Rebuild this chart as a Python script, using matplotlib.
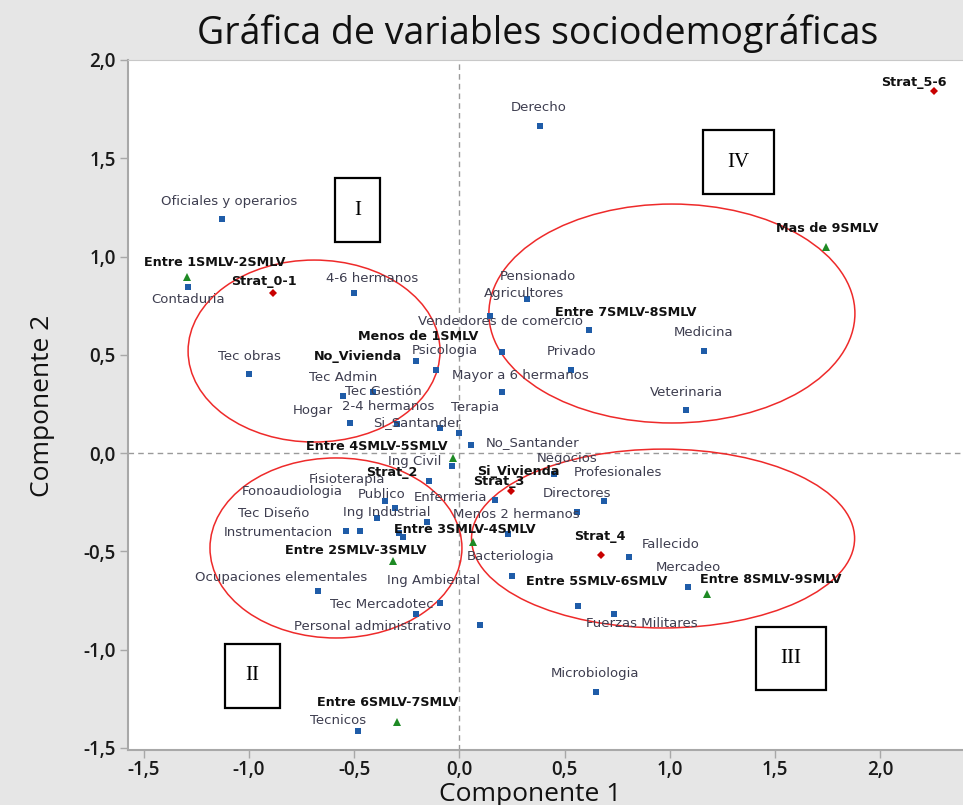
import matplotlib
matplotlib.use('Agg')
import matplotlib.pyplot as plt
from matplotlib.patches import Ellipse, Rectangle
from matplotlib.ticker import FuncFormatter

# categorias (nombre, componente 1, componente 2, grupo)
names = ['Derecho', 'Oficiales y operarios', 'Contaduria', '4-6 hermanos', 'Tec obras',
         'Pensionado', 'Agricultores', 'Vendedores de comercio', 'Entre 7SMLV-8SMLV', 'Medicina',
         'Menos de 1SMLV', 'Psicologia', 'Privado', 'Mayor a 6 hermanos', 'Tec Admin',
         'Tec Gestión', '2-4 hermanos', 'Hogar', 'Si_Santander', 'Terapia',
         'No_Santander', 'Veterinaria', 'Ing Civil', 'Negocios', 'Strat_2',
         'Enfermeria', 'Profesionales', 'Publico', 'Fisioterapia', 'Fonoaudiologia',
         'Directores', 'Menos 2 hermanos', 'Tec Diseño', 'Instrumentacion', 'Ing Industrial',
         'No_Vivienda', 'Si_Vivienda', 'Fallecido', 'Bacteriologia', 'Mercadeo',
         'Ocupaciones elementales', 'Ing Ambiental', 'Tec Mercadotec', 'Entre 5SMLV-6SMLV', 'Fuerzas Militares',
         'Personal administrativo', 'Microbiologia', 'Tecnicos',
         'Entre 1SMLV-2SMLV', 'Mas de 9SMLV', 'Entre 4SMLV-5SMLV', 'Entre 3SMLV-4SMLV', 'Entre 2SMLV-3SMLV',
         'Entre 8SMLV-9SMLV', 'Entre 6SMLV-7SMLV',
         'Strat_0-1', 'Strat_5-6', 'Strat_3', 'Strat_4']
comp1 = [0.383, -1.127, -1.289, -0.500, -0.999,
         0.322, 0.146, 0.203, 0.616, 1.163,
         -0.206, -0.111, 0.531, 0.203, -0.553,
         -0.410, -0.296, -0.519, -0.092, -0.001,
         0.055, 1.077, -0.035, 0.450, -0.144,
         0.170, 0.687, -0.353, -0.305, -0.391,
         0.559, -0.153, -0.539, -0.472, -0.287,
         -0.268, 0.231, 0.806, 0.250, 1.086,
         -0.672, -0.092, -0.206, 0.564, 0.735,
         0.098, 0.649, -0.482,
         -1.294, 1.742, -0.030, 0.065, -0.315,
         1.177, -0.296,
         -0.885, 2.254, 0.245, 0.673]
comp2 = [1.663, 1.190, 0.844, 0.814, 0.402,
         0.783, 0.697, 0.514, 0.626, 0.519,
         0.468, 0.422, 0.422, 0.310, 0.290,
         0.310, 0.148, 0.153, 0.127, 0.102,
         0.041, 0.219, -0.066, -0.107, -0.142,
         -0.239, -0.244, -0.244, -0.280, -0.331,
         -0.300, -0.351, -0.397, -0.397, -0.407,
         -0.427, -0.412, -0.529, -0.626, -0.682,
         -0.702, -0.763, -0.819, -0.778, -0.819,
         -0.875, -1.216, -1.414,
         0.895, 1.048, -0.025, -0.453, -0.549,
         -0.717, -1.368,
         0.814, 1.841, -0.193, -0.519]
group = ['var'] * 48 + ['ingreso'] * 7 + ['estrato'] * 4

bold_labels = ['Entre 1SMLV-2SMLV', 'Mas de 9SMLV', 'Entre 4SMLV-5SMLV', 'Entre 3SMLV-4SMLV',
               'Entre 2SMLV-3SMLV', 'Entre 8SMLV-9SMLV', 'Entre 6SMLV-7SMLV', 'Entre 7SMLV-8SMLV',
               'Entre 5SMLV-6SMLV', 'Menos de 1SMLV', 'Strat_0-1', 'Strat_2', 'Strat_3', 'Strat_4',
               'Strat_5-6', 'No_Vivienda', 'Si_Vivienda']

# desplazamiento de las etiquetas (pixeles, x derecha / y abajo)
label_off = {
    'Derecho': (-1, -19), 'Strat_5-6': (-20, -9), 'Oficiales y operarios': (7, -18),
    'Entre 1SMLV-2SMLV': (28, -15), 'Contaduria': (0, 12), 'Strat_0-1': (-9, -12),
    '4-6 hermanos': (18, -15), 'Mas de 9SMLV': (1, -19), 'Pensionado': (11, -23),
    'Agricultores': (34, -23), 'Vendedores de comercio': (-2, -31), 'Entre 7SMLV-8SMLV': (37, -18),
    'Medicina': (-1, -19), 'Menos de 1SMLV': (2, -25), 'Psicologia': (9, -20),
    'Tec obras': (0, -18), 'No_Vivienda': (-45, -180), 'Tec Gestión': (10, -1),
    'Privado': (0, -19), 'Tec Admin': (0, -19), 'Mayor a 6 hermanos': (18, -17),
    'Veterinaria': (0, -18), 'Hogar': (-37, -12), '2-4 hermanos': (-9, -17),
    'Terapia': (16, -26), 'Si_Santander': (-23, -6), 'No_Santander': (62, -2),
    'Entre 4SMLV-5SMLV': (-76, -11), 'Ing Civil': (-37, -5), 'Negocios': (13, -16),
    'Si_Vivienda': (10, -63), 'Fisioterapia': (-48, -29), 'Strat_2': (-37, -8),
    'Profesionales': (14, -29), 'Strat_3': (-12, -9), 'Fonoaudiologia': (-85, -27),
    'Publico': (-3, -7), 'Enfermeria': (-45, -3), 'Directores': (0, -19),
    'Tec Diseño': (-72, -18), 'Ing Industrial': (-12, -21), 'Menos 2 hermanos': (89, -8),
    'Instrumentacion': (-82, 1), 'Entre 3SMLV-4SMLV': (-8, -13), 'Strat_4': (-1, -19),
    'Fallecido': (42, -13), 'Entre 2SMLV-3SMLV': (-37, -10), 'Bacteriologia': (-1, -20),
    'Mercadeo': (0, -20), 'Ocupaciones elementales': (-37, -14), 'Ing Ambiental': (-6, -22),
    'Entre 5SMLV-6SMLV': (19, -24), 'Entre 8SMLV-9SMLV': (64, -14), 'Tec Mercadotec': (-34, -10),
    'Personal administrativo': (-107, 1), 'Fuerzas Militares': (28, 9), 'Microbiologia': (-1, -19),
    'Entre 6SMLV-7SMLV': (-9, -19), 'Tecnicos': (-20, -10),
}

styles = {'var': ('s', '#1F5CA8', 4.2),
          'ingreso': ('^', '#1E8A24', 6),
          'estrato': ('D', '#C80000', 4)}

# grupos marcados a mano (centro x, centro y, ancho, alto)
ellipses = [(-0.69, 0.519, 1.197, 0.926), (1.010, 0.710, 1.739, 1.114),
            (-0.586, -0.483, 1.197, 0.916), (0.968, -0.435, 1.82, 0.91)]
zones = [('I', -0.591, 1.073, 0.214, 0.326), ('IV', 1.157, 1.317, 0.337, 0.326),
         ('II', -1.114, -1.297, 0.262, 0.326), ('III', 1.409, -1.205, 0.333, 0.320)]

fig = plt.figure(figsize=(9.63, 8.05), dpi=100, facecolor='#e6e6e6')
ax = fig.add_axes([128 / 963, 1 - 750 / 805, (963 - 128) / 963, (750 - 60) / 805])
ax.set_facecolor('white')
ax.set_xlim(-1.574, 2.393)
ax.set_ylim(-1.511, 2.0)

ax.axhline(0, color='#9a9a9a', ls=(0, (4, 3)), lw=1, zorder=1)
ax.axvline(0, color='#9a9a9a', ls=(0, (4, 3)), lw=1, zorder=1)

for g, (mk, col, ms) in styles.items():
    xs = [x for x, gg in zip(comp1, group) if gg == g]
    ys = [y for y, gg in zip(comp2, group) if gg == g]
    ax.plot(xs, ys, mk, color=col, markersize=ms, markeredgewidth=0, zorder=3)

for n, x, y in zip(names, comp1, comp2):
    dx, dy = label_off.get(n, (0, -18))
    if n in bold_labels:
        ax.annotate(n, (x, y), xytext=(dx, -dy), textcoords='offset pixels',
                    ha='center', va='center', fontsize=9.2, fontweight='bold',
                    color='#111111', zorder=4)
    else:
        ax.annotate(n, (x, y), xytext=(dx, -dy), textcoords='offset pixels',
                    ha='center', va='center', fontsize=9.5, color='#3d3d4f', zorder=4)

for cx, cy, w, h in ellipses:
    ax.add_patch(Ellipse((cx, cy), w, h, fill=False, edgecolor='#EE2A2A', lw=1.1, zorder=2))

for txt, x0, y0, w, h in zones:
    ax.add_patch(Rectangle((x0, y0), w, h, facecolor='white', edgecolor='black', lw=1.6, zorder=5))
    ax.text(x0 + w / 2, y0 + h / 2, txt, ha='center', va='center', fontsize=15,
            family='Liberation Serif', zorder=6)

ax.set_xticks([-1.5, -1.0, -0.5, 0.0, 0.5, 1.0, 1.5, 2.0])
ax.set_yticks([-1.5, -1.0, -0.5, 0.0, 0.5, 1.0, 1.5, 2.0])
fmt = FuncFormatter(lambda v, p: ('%.1f' % v).replace('.', ','))
ax.xaxis.set_major_formatter(fmt)
ax.yaxis.set_major_formatter(fmt)
ax.tick_params(direction='out', length=6, width=1, color='#a8a8a8', labelsize=13.5,
               labelcolor='#1a1a1a', pad=3)
ax.tick_params(axis='x', pad=1.5)
for lab in ax.get_xticklabels() + ax.get_yticklabels():
    lab.set_fontweight('semibold')
    lab.set_family('Open Sans')

ax.spines['right'].set_visible(False)
ax.spines['left'].set_color('#a8a8a8')
ax.spines['bottom'].set_color('#a8a8a8')
ax.spines['left'].set_linewidth(1.5)
ax.spines['bottom'].set_linewidth(1.5)
ax.spines['top'].set_color('#c8c8c8')

fig.text(0.558, 0.958, 'Gráfica de variables sociodemográficas', ha='center', va='center',
         fontsize=27, family='Open Sans', fontweight='medium', color='#111111')
fig.text(0.551, 0.013, 'Componente 1', ha='center', va='center', fontsize=19,
         family='Open Sans', fontweight='medium', color='#111111')
fig.text(0.044, 0.496, 'Componente 2', ha='center', va='center', rotation=90, fontsize=19,
         family='Open Sans', fontweight='medium', color='#111111')

plt.savefig('out.png', dpi=100, facecolor=fig.get_facecolor())
